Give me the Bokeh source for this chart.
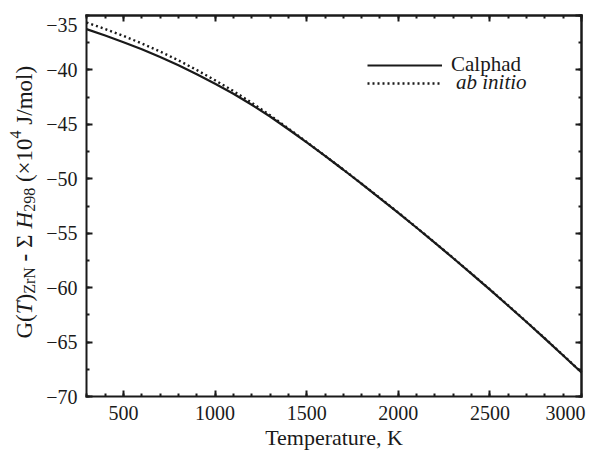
from bokeh.plotting import figure
from bokeh.models import (LinearAxis, Range1d, Label, Legend, LegendItem,
                          FixedTicker)
from bokeh.embed import file_html
from bokeh.resources import INLINE

# Gibbs energy of ZrN relative to the standard enthalpy (x10^4 J/mol)
temperature = [298, 400, 500, 600, 700, 800, 900, 1000, 1100, 1200, 1300, 1400,
               1500, 1600, 1700, 1800, 1900, 2000, 2100, 2200, 2300, 2400, 2500,
               2600, 2700, 2800, 2900, 3000]
g_calphad = [-36.25, -36.84, -37.45, -38.10, -38.81, -39.57, -40.39, -41.27,
             -42.19, -43.20, -44.28, -45.45, -46.66, -47.90, -49.17, -50.47,
             -51.79, -53.13, -54.50, -55.89, -57.30, -58.73, -60.18, -61.66,
             -63.16, -64.68, -66.23, -67.80]
g_ab_initio = [-35.65, -36.24, -36.88, -37.57, -38.31, -39.12, -40.01, -40.95,
               -41.94, -43.02, -44.16, -45.38, -46.62, -47.88, -49.15, -50.45,
               -51.77, -53.11, -54.48, -55.87, -57.28, -58.71, -60.16, -61.64,
               -63.14, -64.66, -66.21, -67.78]

x_ticks = [500, 1000, 1500, 2000, 2500, 3000]
x_minor = list(range(300, 3001, 100))
y_ticks = [-70, -65, -60, -55, -50, -45, -40, -35]
y_minor = [-70 + 2.5 * i for i in range(15)]
x_lim = (298, 3000)
y_lim = (-70, -35)

FONT = "Liberation Serif"
INK = "#1a1a1a"

# canvas and plot-box geometry (pixels); the frame spans the whole canvas and
# the axes are pinned to the box edges
W, H = 589, 455
BOX_L, BOX_R, BOX_T, BOX_B = 86, 581, 15, 396
kx = (x_lim[1] - x_lim[0]) / (BOX_R - BOX_L)
ky = (y_lim[1] - y_lim[0]) / (BOX_B - BOX_T)
x_range = Range1d(x_lim[0] - BOX_L * kx, x_lim[1] + (W - BOX_R) * kx)
y_range = Range1d(y_lim[0] - (H - BOX_B) * ky, y_lim[1] + BOX_T * ky)

p = figure(width=W, height=H, x_range=x_range, y_range=y_range,
           x_axis_type=None, y_axis_type=None, output_backend="svg",
           toolbar_location=None, min_border=0)
p.xgrid.visible = False
p.ygrid.visible = False
p.outline_line_alpha = 0
p.background_fill_color = "white"
p.border_fill_color = "white"


def make_axis(loc, bounds, ticks, minor, tick_len, minor_len):
    ax = LinearAxis(fixed_location=loc, bounds=bounds,
                    ticker=FixedTicker(ticks=ticks, minor_ticks=minor))
    ax.axis_line_color = INK
    ax.axis_line_width = 2
    ax.axis_line_cap = "square"
    ax.major_tick_line_color = INK
    ax.major_tick_line_width = 2
    ax.minor_tick_line_color = INK
    ax.minor_tick_line_width = 2
    ax.major_tick_in = tick_len
    ax.major_tick_out = 0
    ax.minor_tick_in = minor_len
    ax.minor_tick_out = 0
    ax.major_label_text_font = FONT
    ax.major_label_text_color = INK
    ax.major_label_text_font_size = "20px"
    ax.major_label_standoff = 9
    return ax


# bottom and left axes carry the tick labels (end labels drawn separately)
bottom = make_axis(y_lim[0], x_lim, x_ticks[:-1], x_minor, 6, 3)
bottom.major_label_overrides = {t: str(t) for t in x_ticks[:-1]}
bottom.axis_label = "Temperature, K"
bottom.axis_label_text_font = FONT
bottom.axis_label_text_font_size = "22px"
bottom.axis_label_text_font_style = "normal"
bottom.axis_label_text_color = INK
bottom.axis_label_standoff = 2
p.add_layout(bottom, "below")

left = make_axis(x_lim[0], y_lim, y_ticks[:-1], y_minor, 6, 3)
left.major_label_overrides = {t: "\u2212" + str(abs(t)) for t in y_ticks[:-1]}
p.add_layout(left, "left")

# mirrored top and right edges: tick marks only (no labels)
for loc, bounds, ticks, minor, side in [(y_lim[1], x_lim, x_ticks, x_minor, "above"),
                                        (x_lim[1], y_lim, y_ticks, y_minor, "right")]:
    p.add_layout(make_axis(loc, bounds, [], minor, 6, 3), side)
    p.add_layout(make_axis(loc, bounds, [], ticks, 6, 6), side)

# end tick labels kept inside the canvas
p.add_layout(Label(x=x_ticks[-1], y=y_lim[0], x_offset=4, y_offset=-9,
                   text=str(x_ticks[-1]), text_align="right", text_baseline="top",
                   text_font=FONT, text_font_size="20px", text_color=INK))
p.add_layout(Label(x=x_lim[0], y=y_ticks[-1], x_offset=-9, y_offset=-2,
                   text="\u2212" + str(abs(y_ticks[-1])), text_align="right",
                   text_baseline="top", text_font=FONT, text_font_size="20px",
                   text_color=INK))

# curves
r_cal = p.line(temperature, g_calphad, line_color=INK, line_width=2.2)
r_ab = p.line(temperature, g_ab_initio, line_color=INK, line_width=2.4,
              line_dash="2 3")

# legend: one entry per box so each label can have its own style
for label, rend, row_y, style, standoff in [("Calphad", r_cal, 65, "normal", 9),
                                            ("ab initio", r_ab, 83, "italic", 14)]:
    leg = Legend(items=[LegendItem(label=label, renderers=[rend])],
                 location=(367, H - row_y - 12), padding=0, margin=0, spacing=0,
                 glyph_width=75, glyph_height=24, label_height=24,
                 label_standoff=standoff, label_text_font=FONT,
                 label_text_font_size="21px", label_text_font_style=style,
                 label_text_color=INK, border_line_alpha=0,
                 background_fill_alpha=0)
    p.add_layout(leg)

# y-axis title assembled from pieces (rotated, reading upward):
# (text, font px, style, baseline shift px, gap before in em of main size, advance widths)
MAIN, SUB = 23, 16
pieces = [
    ("G(", MAIN, "normal", 0, 0, [722, 333]),
    ("T", MAIN, "italic", 0, 0, [556]),
    (")", MAIN, "normal", 0, 0, [333]),
    ("ZrN", SUB, "normal", 5, 0, [611, 333, 722]),
    ("-", MAIN, "bold", 0, 250, [333]),
    ("\u03a3", MAIN, "normal", 0, 250, [600]),
    ("H", MAIN, "italic", 0, 250, [722]),
    ("298", SUB, "normal", 5, 0, [500, 500, 500]),
    ("(\u00d710", MAIN, "normal", 0, 250, [333, 564, 500, 500]),
    ("4", SUB, "normal", -9, 0, [500]),
    ("J/mol)", MAIN, "normal", 0, 250, [389, 278, 778, 500, 278, 333]),
]
BASE_X = -62
along = 58.0
for text, size, style, shift, gap, widths in pieces:
    along += gap / 1000.0 * MAIN
    p.add_layout(Label(x=x_lim[0], y=y_lim[0], x_offset=BASE_X + shift,
                       y_offset=along, text=text, angle=90, angle_units="deg",
                       text_align="left", text_baseline="alphabetic",
                       text_font=FONT, text_font_size=f"{size}px",
                       text_font_style=style, text_color=INK))
    along += sum(widths) / 1000.0 * size

open("out.html", "w").write(file_html(p, INLINE))
